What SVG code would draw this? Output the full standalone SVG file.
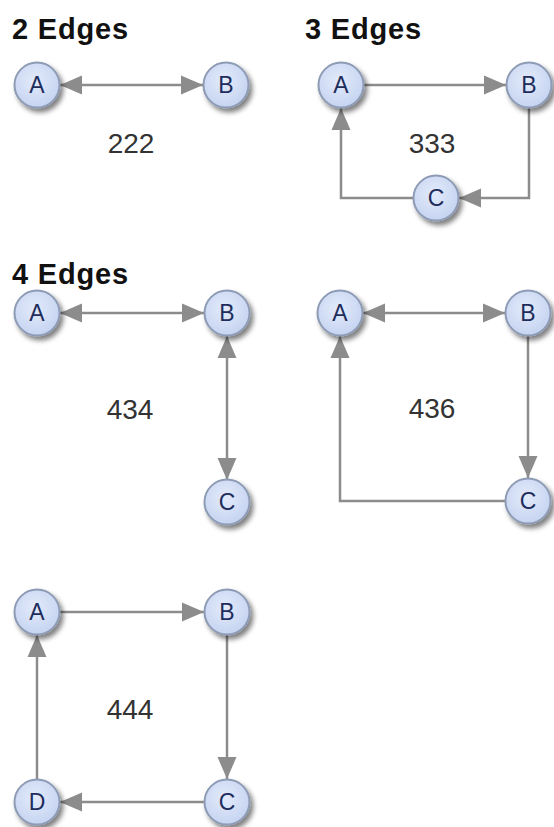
<svg xmlns="http://www.w3.org/2000/svg" width="554" height="827" viewBox="0 0 554 827">
<style>
.title{font-family:"Liberation Sans",Arial,sans-serif;font-weight:bold;font-size:29px;letter-spacing:0.8px;fill:#111;}
.lbl{font-family:"Liberation Sans",Arial,sans-serif;font-size:28px;fill:#333;text-anchor:middle;}
.nl{font-family:"Liberation Sans",Arial,sans-serif;font-size:23px;fill:#1e2d5c;text-anchor:middle;}
.node circle{fill:url(#ng);stroke:#8d9bb5;stroke-width:2;filter:url(#sh);}
.edge{fill:none;stroke:#8c8c8c;stroke-width:2.5;}
</style>
<defs>
<radialGradient id="ng" cx="0.45" cy="0.4" r="0.65">
<stop offset="0" stop-color="#e3ebfb"/>
<stop offset="1" stop-color="#c4d2f0"/>
</radialGradient>
<filter id="sh" x="-40%" y="-40%" width="190%" height="190%">
<feGaussianBlur in="SourceAlpha" stdDeviation="2.4"/>
<feOffset dx="3" dy="4" result="b"/>
<feComponentTransfer><feFuncA type="linear" slope="0.5"/></feComponentTransfer>
<feMerge><feMergeNode/><feMergeNode in="SourceGraphic"/></feMerge>
</filter>
<marker id="ah" markerUnits="userSpaceOnUse" markerWidth="24" markerHeight="20" refX="22" refY="9.5" orient="auto-start-reverse" viewBox="0 0 24 19">
<path d="M0,0 L22,9.5 L0,19 z" fill="#8c8c8c"/>
</marker>
</defs>

<text class="title" x="12" y="39">2 Edges</text>
<text class="title" x="305" y="39">3 Edges</text>
<text class="title" x="12" y="284">4 Edges</text>

<g id="connectors">
<line class="edge" x1="60" y1="85" x2="203" y2="85" marker-start="url(#ah)" marker-end="url(#ah)"/>
<line class="edge" x1="364" y1="85" x2="506" y2="85" marker-end="url(#ah)"/>
<path class="edge" d="M529,108 V198 H459" marker-end="url(#ah)"/>
<path class="edge" d="M413,198 H341 V108" marker-end="url(#ah)"/>
<line class="edge" x1="60" y1="313" x2="204" y2="313" marker-start="url(#ah)" marker-end="url(#ah)"/>
<line class="edge" x1="227" y1="336" x2="227" y2="480" marker-start="url(#ah)" marker-end="url(#ah)"/>
<line class="edge" x1="363" y1="313" x2="505" y2="313" marker-start="url(#ah)" marker-end="url(#ah)"/>
<line class="edge" x1="528" y1="336" x2="528" y2="478" marker-end="url(#ah)"/>
<path class="edge" d="M505,501 H340 V336" marker-end="url(#ah)"/>
<line class="edge" x1="60" y1="612" x2="204" y2="612" marker-end="url(#ah)"/>
<line class="edge" x1="227" y1="635" x2="227" y2="779" marker-end="url(#ah)"/>
<line class="edge" x1="204" y1="802" x2="60" y2="802" marker-end="url(#ah)"/>
<line class="edge" x1="37" y1="779" x2="37" y2="635" marker-end="url(#ah)"/>
</g>

<text class="lbl" x="131" y="153">222</text>
<text class="lbl" x="432" y="153">333</text>
<text class="lbl" x="130" y="419">434</text>
<text class="lbl" x="432" y="418">436</text>
<text class="lbl" x="130" y="719">444</text>

<g id="g2-A" class="node"><circle cx="37" cy="85" r="22.5"/><text class="nl" x="37" y="93">A</text></g>
<g id="g2-B" class="node"><circle cx="226" cy="85" r="22.5"/><text class="nl" x="226" y="93">B</text></g>

<g id="g3-A" class="node"><circle cx="341" cy="85" r="22.5"/><text class="nl" x="341" y="93">A</text></g>
<g id="g3-B" class="node"><circle cx="529" cy="85" r="22.5"/><text class="nl" x="529" y="93">B</text></g>
<g id="g3-C" class="node"><circle cx="436" cy="198" r="22.5"/><text class="nl" x="436" y="206">C</text></g>

<g id="g4a-A" class="node"><circle cx="37" cy="313" r="22.5"/><text class="nl" x="37" y="321">A</text></g>
<g id="g4a-B" class="node"><circle cx="227" cy="313" r="22.5"/><text class="nl" x="227" y="321">B</text></g>
<g id="g4a-C" class="node"><circle cx="227" cy="502" r="22.5"/><text class="nl" x="227" y="510">C</text></g>

<g id="g4b-A" class="node"><circle cx="340" cy="313" r="22.5"/><text class="nl" x="340" y="321">A</text></g>
<g id="g4b-B" class="node"><circle cx="528" cy="313" r="22.5"/><text class="nl" x="528" y="321">B</text></g>
<g id="g4b-C" class="node"><circle cx="528" cy="501" r="22.5"/><text class="nl" x="528" y="509">C</text></g>

<g id="g5-A" class="node"><circle cx="37" cy="612" r="22.5"/><text class="nl" x="37" y="620">A</text></g>
<g id="g5-B" class="node"><circle cx="227" cy="612" r="22.5"/><text class="nl" x="227" y="620">B</text></g>
<g id="g5-C" class="node"><circle cx="227" cy="802" r="22.5"/><text class="nl" x="227" y="810">C</text></g>
<g id="g5-D" class="node"><circle cx="37" cy="802" r="22.5"/><text class="nl" x="37" y="810">D</text></g>
</svg>
